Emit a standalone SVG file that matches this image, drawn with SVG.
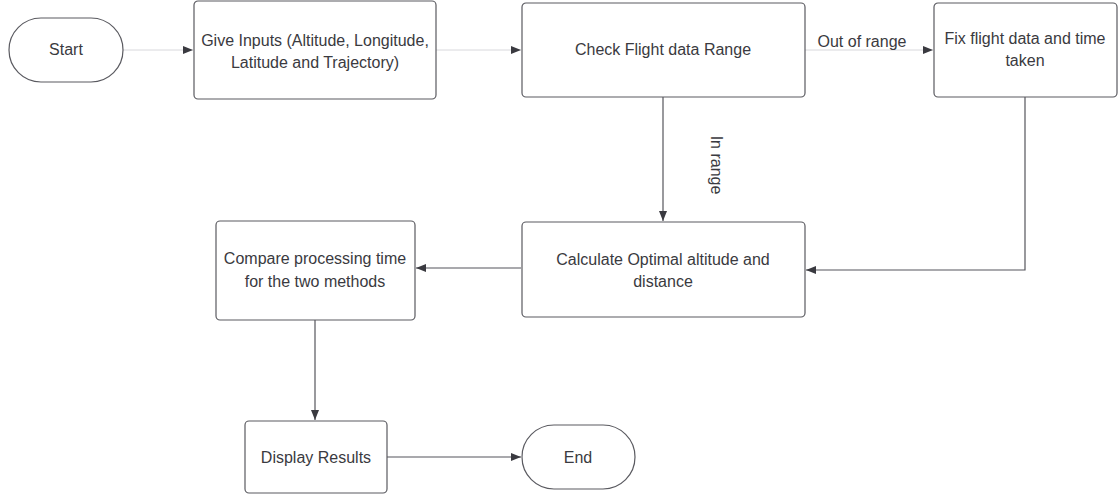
<svg xmlns="http://www.w3.org/2000/svg" width="1118" height="494" viewBox="0 0 1118 494">
<defs>
<style>
.box{fill:#fff;stroke:#5a5a60;stroke-width:1.2}
.t{font-family:"Liberation Sans",Arial,sans-serif;font-size:16px;fill:#3a3a40;text-anchor:middle}
.lt{stroke:#d8d8dc;stroke-width:1;fill:none}
.dk{stroke:#55555c;stroke-width:1.2;fill:none}
</style>
<marker id="ah" viewBox="0 0 10 10" refX="10" refY="5" markerWidth="10" markerHeight="10" markerUnits="userSpaceOnUse" orient="auto">
<path d="M0,1 L10,5 L0,9 Z" fill="#3a3a40"/>
</marker>
</defs>
<rect width="1118" height="494" fill="#fff"/>
<g id="connectors">
<line class="lt" x1="123" y1="50" x2="193" y2="50" marker-end="url(#ah)"/>
<line class="lt" x1="436" y1="50" x2="521" y2="50" marker-end="url(#ah)"/>
<line class="lt" x1="805" y1="50" x2="933" y2="50" marker-end="url(#ah)"/>
<text class="t" x="862" y="47">Out of range</text>
<line class="dk" x1="663" y1="97" x2="663" y2="221" marker-end="url(#ah)"/>
<text class="t" transform="translate(711,165) rotate(90)">In range</text>
<polyline class="dk" points="1025,97 1025,270 806,270" marker-end="url(#ah)"/>
<line class="dk" x1="521" y1="268" x2="416" y2="268" marker-end="url(#ah)"/>
<line class="dk" x1="315" y1="320" x2="315" y2="420" marker-end="url(#ah)"/>
<line class="dk" x1="387" y1="457" x2="521" y2="457" marker-end="url(#ah)"/>
</g>
<g id="start">
<rect class="box" x="9" y="18" width="114" height="64" rx="32"/>
<text class="t" x="66" y="55">Start</text>
</g>
<g id="inputs">
<rect class="box" x="194" y="1" width="242" height="98" rx="4"/>
<text class="t" x="315" y="46">Give Inputs (Altitude, Longitude,</text>
<text class="t" x="315" y="68">Latitude and Trajectory)</text>
</g>
<g id="check">
<rect class="box" x="522" y="3" width="283" height="94" rx="4"/>
<text class="t" x="663" y="55">Check Flight data Range</text>
</g>
<g id="fix">
<rect class="box" x="934" y="3" width="183" height="94" rx="4"/>
<text class="t" x="1025" y="44">Fix flight data and time</text>
<text class="t" x="1025" y="66">taken</text>
</g>
<g id="calc">
<rect class="box" x="522" y="222" width="283" height="95" rx="4"/>
<text class="t" x="663" y="265">Calculate Optimal altitude and</text>
<text class="t" x="663" y="287">distance</text>
</g>
<g id="compare">
<rect class="box" x="216" y="221" width="199" height="99" rx="4"/>
<text class="t" x="315" y="264">Compare processing time</text>
<text class="t" x="315" y="287">for the two methods</text>
</g>
<g id="display">
<rect class="box" x="245" y="421" width="142" height="72" rx="4"/>
<text class="t" x="316" y="463">Display Results</text>
</g>
<g id="end">
<rect class="box" x="522" y="425" width="113" height="64" rx="32"/>
<text class="t" x="578" y="463">End</text>
</g>
</svg>
